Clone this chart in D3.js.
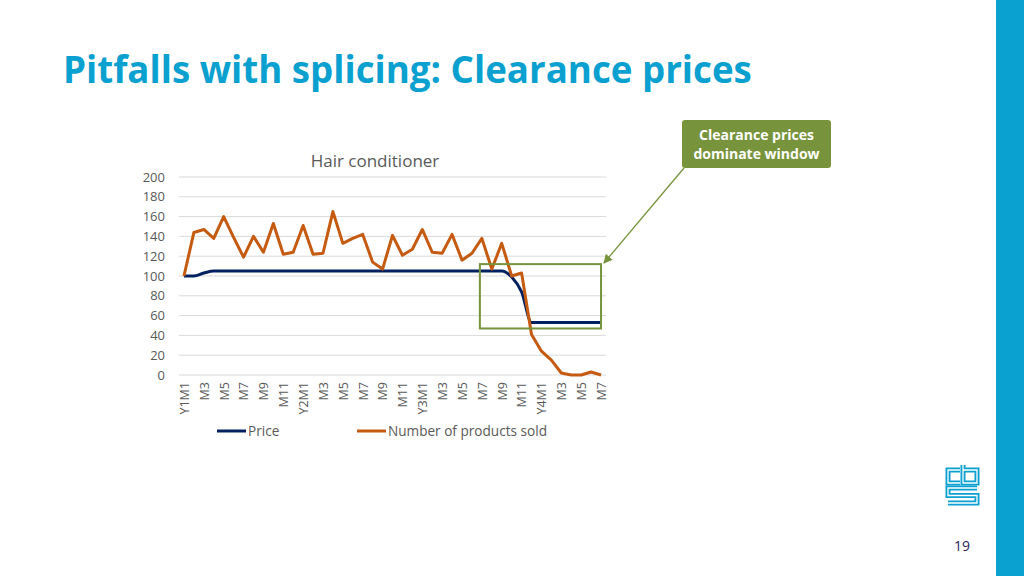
<!DOCTYPE html>
<html><head><meta charset="utf-8">
<script src="https://cdn.jsdelivr.net/npm/d3@7"></script>
<style>
html,body{margin:0;padding:0;background:#fff;}
svg{display:block;}
text{font-family:"Open Sans","Noto Sans",sans-serif;}
</style></head>
<body>
<svg id="c" width="1024" height="576"></svg>
<script>
// ---- data ----
const categories = [
  "Y1M1","M2","M3","M4","M5","M6","M7","M8","M9","M10","M11","M12",
  "Y2M1","M2","M3","M4","M5","M6","M7","M8","M9","M10","M11","M12",
  "Y3M1","M2","M3","M4","M5","M6","M7","M8","M9","M10","M11","M12",
  "Y4M1","M2","M3","M4","M5","M6","M7"
];
const priceValues = [
  100,100,103,105,105,105,105,105,105,105,105,105,
  105,105,105,105,105,105,105,105,105,105,105,105,
  105,105,105,105,105,105,105,105,105,99,84,53,
  53,53,53,53,53,53,53
];
const soldValues = [
  100,144,147,138,160,139,119,140,124,153,122,124,
  151,122,123,165,133,138,142,114,107,141,121,127,
  147,124,123,142,116,123,138,107,133,100,103,41,
  24,15,2,0,0,3,0
];
const yTicks = [0,20,40,60,80,100,120,140,160,180,200];
const seriesNames = ["Price","Number of products sold"];
const windowStart = 30, windowEnd = 42, windowTop = 112, windowBottom = 47;

// ---- drawing ----
const svg = d3.select("#c");
const blue = "#0aa0cf", navy = "#002060", orange = "#c55a11", green = "#77933c", grey = "#595959";

// right bar
svg.append("rect").attr("x",996).attr("y",0).attr("width",28).attr("height",576).attr("fill",blue);

// title
const title = svg.append("text").attr("x",63).attr("y",83)
  .attr("font-weight",700).attr("font-size",35).attr("fill",blue)
  .text("Pitfalls with splicing: Clearance prices");
{ const w = title.node().getComputedTextLength(); title.attr("font-size", 35*689/w); }

const x = d3.scalePoint().domain(d3.range(categories.length)).range([179,606]).padding(0.5);
const y = d3.scaleLinear().domain([0,200]).range([375,177]);

// gridlines
svg.append("g").selectAll("line").data(yTicks).join("line")
  .attr("x1",179).attr("x2",606).attr("y1",d=>y(d)).attr("y2",d=>y(d))
  .attr("stroke","#d9d9d9").attr("stroke-width",1);

// y axis labels
const yAxis = d3.axisLeft(y).tickValues(yTicks).tickSize(0).tickPadding(0);
const yg = svg.append("g").attr("transform","translate(165,0)").call(yAxis);
yg.select(".domain").remove();
yg.selectAll("text").attr("font-size",13).attr("fill",grey).attr("font-family","'Open Sans',sans-serif");

// x axis labels
const xAxis = d3.axisBottom(x).tickSize(0).tickFormat((d,i)=> i%2===0 ? categories[i] : "");
const xg = svg.append("g").attr("transform","translate(0,382)").call(xAxis);
xg.select(".domain").remove();
xg.selectAll("text").attr("font-size",12.5).attr("fill",grey).attr("font-family","'Open Sans',sans-serif")
  .attr("text-anchor","end").attr("transform","rotate(-90)").attr("x",0).attr("y",0).attr("dy","0.35em");

// chart title
svg.append("text").attr("x",375).attr("y",167).attr("text-anchor","middle")
  .attr("font-size",17).attr("fill",grey).text("Hair conditioner");

// lines
const lineP = d3.line().x((d,i)=>x(i)).y(d=>y(d)).curve(d3.curveMonotoneX);
const lineS = d3.line().x((d,i)=>x(i)).y(d=>y(d));
svg.append("path").datum(priceValues).attr("d",lineP).attr("fill","none")
  .attr("stroke",navy).attr("stroke-width",3).attr("stroke-linejoin","round");
svg.append("path").datum(soldValues).attr("d",lineS).attr("fill","none")
  .attr("stroke",orange).attr("stroke-width",3).attr("stroke-linejoin","round");

// legend
const legend = [{name:seriesNames[0],color:navy,x:217},{name:seriesNames[1],color:orange,x:357}];
const lg = svg.append("g").selectAll("g").data(legend).join("g");
lg.append("line").attr("x1",d=>d.x).attr("x2",d=>d.x+29).attr("y1",431).attr("y2",431)
  .attr("stroke",d=>d.color).attr("stroke-width",3);
lg.append("text").attr("x",d=>d.x+31).attr("y",436).attr("font-size",13.6).attr("fill",grey).text(d=>d.name);

// window rectangle
const wx1 = x(windowStart)-2, wx2 = x(windowEnd);
svg.append("rect").attr("x",wx1).attr("y",y(windowTop)).attr("width",wx2-wx1)
  .attr("height",y(windowBottom)-y(windowTop)).attr("fill","none").attr("stroke",green).attr("stroke-width",2);

// callout
svg.append("rect").attr("x",682).attr("y",120).attr("width",149).attr("height",48).attr("rx",3).attr("fill",green);
svg.append("text").attr("x",756.5).attr("y",140).attr("text-anchor","middle").attr("font-size",14)
  .attr("font-weight",700).attr("fill","#fff").text("Clearance prices");
svg.append("text").attr("x",756.5).attr("y",159).attr("text-anchor","middle").attr("font-size",14)
  .attr("font-weight",700).attr("fill","#fff").text("dominate window");

// arrow
const defs = svg.append("defs");
defs.append("marker").attr("id","ah").attr("viewBox","0 0 10 10").attr("refX",9).attr("refY",5)
  .attr("markerWidth",7).attr("markerHeight",7).attr("orient","auto")
  .append("path").attr("d","M0,0 L10,5 L0,10 z").attr("fill",green);
svg.append("line").attr("x1",684).attr("y1",168).attr("x2",604).attr("y2",263)
  .attr("stroke",green).attr("stroke-width",1.3).attr("marker-end","url(#ah)");

// logo
const logo = svg.append("g");
const logoPaths = [
  "M960,470 H948 V483 H960",
  "M963,465 V483 H977 V470 H963",
  "M977,488 H948 V495.5 H977 V503 H948"
];
logo.selectAll("path.o").data(logoPaths).join("path").attr("d",d=>d).attr("fill","none")
  .attr("stroke",blue).attr("stroke-width",5).attr("stroke-linejoin","miter");
logo.selectAll("path.i").data(logoPaths).join("path").attr("d",d=>d).attr("fill","none")
  .attr("stroke","#fff").attr("stroke-width",1.3).attr("stroke-linejoin","miter");

// page number
svg.append("text").attr("x",962).attr("y",551).attr("text-anchor","middle").attr("font-size",14)
  .attr("fill","#1f1f5c").text("19");
</script>
</body></html>
